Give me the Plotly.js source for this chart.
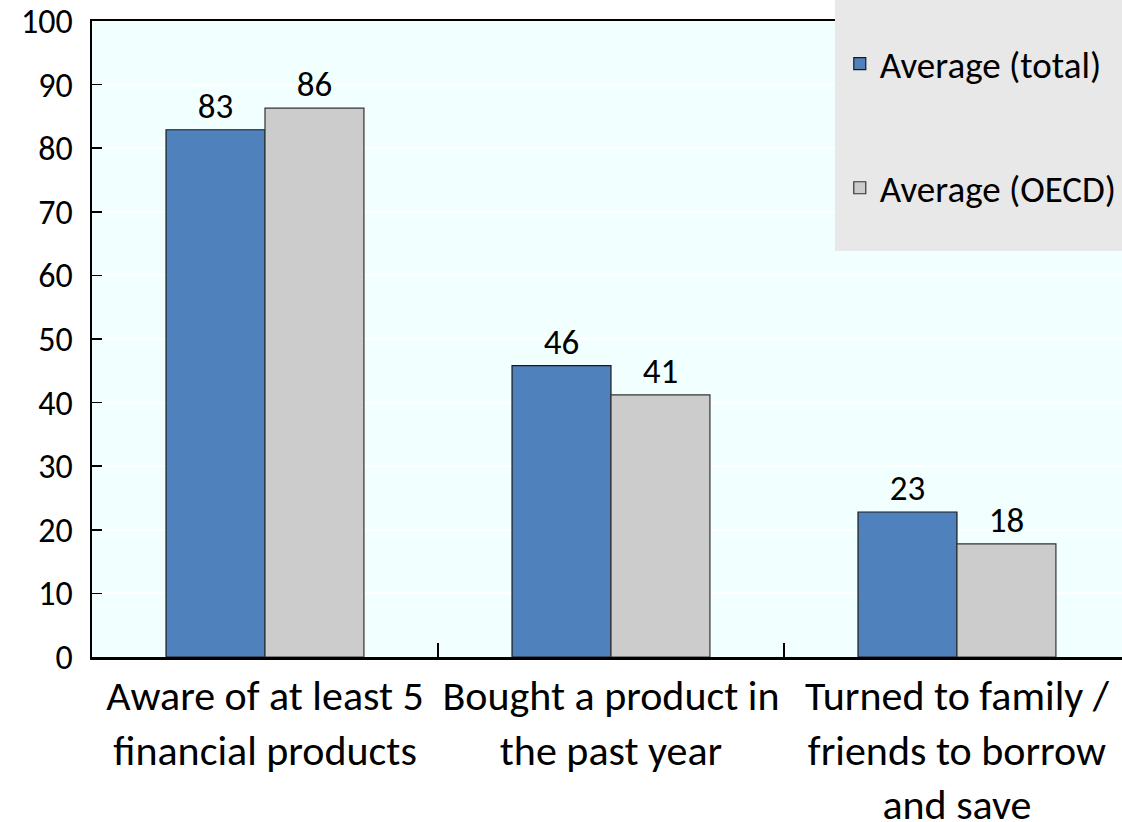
<!DOCTYPE html>
<html><head><meta charset="utf-8">
<script src="https://cdn.plot.ly/plotly-3.0.1.min.js"></script>
<style>html,body{margin:0;padding:0;background:#fff}#chart{width:1122px;height:822px}</style>
</head><body><div id="chart"></div>
<script>
const categories = ["Aware of at least 5<br>financial products", "Bought a product in<br>the past year", "Turned to family /<br>friends to borrow<br>and save"];
const seriesNames = ["Average (total)", "Average (OECD)"];
const totalValues = [82.9, 45.8, 22.8];
const oecdValues = [86.3, 41.2, 17.8];
const yTicks = [0, 10, 20, 30, 40, 50, 60, 70, 80, 90, 100];

const FONT = "Carlito, Lato, 'Liberation Sans', sans-serif";

const traces = [
  {type:"bar", name:seriesNames[0], x:categories, y:totalValues, legendgroup:"a",
   marker:{color:"#4f81bd", line:{color:"#1a1a1a", width:1.2}},
   text:totalValues, texttemplate:"%{y:.0f}", textposition:"outside", cliponaxis:false,
   textfont:{family:FONT, size:35, color:"#000"}},
  {type:"bar", name:seriesNames[1], x:categories, y:oecdValues, legendgroup:"b",
   marker:{color:"#cccccc", line:{color:"#333", width:1.2}},
   text:oecdValues, texttemplate:"%{y:.0f}", textposition:"outside", cliponaxis:false,
   textfont:{family:FONT, size:35, color:"#000"}}
];

const layout = {
  width:1122, height:822,
  margin:{l:92, r:0, t:21, b:165},
  paper_bgcolor:"#ffffff", plot_bgcolor:"#f2ffff",
  barmode:"group", bargap:0.428, bargroupgap:0,
  font:{family:FONT, color:"#000"},
  xaxis:{type:"category", range:[-0.5, 2.477], tickson:"boundaries", ticks:"inside", ticklen:14,
    tickcolor:"#000", tickwidth:1.5, showline:true, linecolor:"#000", linewidth:2.5, mirror:true,
    showgrid:false, tickangle:0, tickfont:{family:FONT, size:42, color:"#000"}, fixedrange:true},
  yaxis:{range:[0,100], tickvals:yTicks, ticks:"inside", ticklen:10, tickcolor:"#000", tickwidth:1.5,
    showline:true, linecolor:"#000", linewidth:2.5, gridcolor:"#ffffff", gridwidth:2, zeroline:false,
    tickfont:{family:FONT, size:34, color:"#000"}, ticklabelstandoff:10},
  legend:{x:0.726, y:0.981, xanchor:"left", yanchor:"top", bgcolor:"rgba(0,0,0,0)",
    traceorder:"grouped", tracegroupgap:73, font:{family:FONT, size:37, color:"#000"}},
  shapes:[{type:"rect", xref:"paper", yref:"paper", x0:0.7213, x1:1.01, y0:0.6385, y1:1.04,
    fillcolor:"#e8e8e8", line:{width:0}, layer:"above"}],
  showlegend:true
};
Plotly.newPlot("chart", traces, layout, {displayModeBar:false, staticPlot:true});
</script></body></html>
